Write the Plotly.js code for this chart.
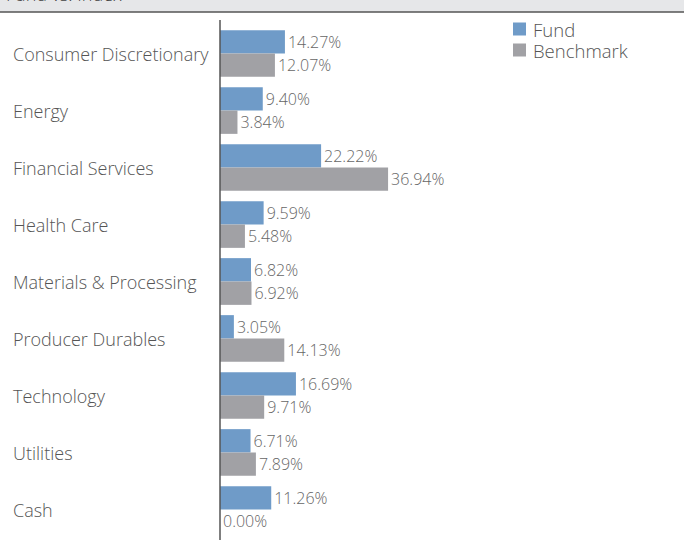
<!DOCTYPE html>
<html><head><meta charset="utf-8">
<script src="https://cdn.plot.ly/plotly-3.0.1.min.js"></script>
<style>html,body{margin:0;padding:0;background:#fff}#c{width:684px;height:540px}</style>
</head><body><div id="c"></div>
<script>
const categories = ["Consumer Discretionary","Energy","Financial Services","Health Care","Materials & Processing","Producer Durables","Technology","Utilities","Cash"];
const fundValues = [14.27, 9.40, 22.22, 9.59, 6.82, 3.05, 16.69, 6.71, 11.26];
const benchmarkValues = [12.07, 3.84, 36.94, 5.48, 6.92, 14.13, 9.71, 7.89, 0.00];
const seriesNames = ["Fund", "Benchmark"];
const seriesColors = ["#6f9bc8", "#a1a1a5"];
const chartTitle = "Fund vs. Index";

const W = 684, H = 540, L = 220, R = 9, T = 25, B = 2;
const pw = W - L - R, ph = H - T - B;
const px2x = p => (p - L) / pw;
const py2y = p => 1 - (p - T) / ph;

const font = "Open Sans, Liberation Sans, Arial, sans-serif";
const txt = v => v.toFixed(2) + "%";

const traces = [fundValues, benchmarkValues].map((vals, i) => ({
  type: "bar", orientation: "h", name: seriesNames[i], y: categories, x: vals,
  marker: {color: seriesColors[i]}, text: vals.map(txt), textposition: "outside",
  textfont: {family: font, size: 16, color: "#666", weight: 300}, cliponaxis: false, hoverinfo: "none"
}));

const annotations = categories.map(c => ({
  xref: "paper", yref: "y", x: px2x(11), y: c, text: c, showarrow: false,
  xanchor: "left", yanchor: "middle", font: {family: font, size: 18, color: "#555", weight: 300}
}));
annotations.push({xref: "paper", yref: "paper", x: px2x(4), y: py2y(8), text: chartTitle,
  showarrow: false, xanchor: "left", yanchor: "bottom", font: {family: font, size: 18, color: "#444", weight: 300}});

const shapes = [
  {type: "rect", xref: "paper", yref: "paper", x0: px2x(0), x1: px2x(W), y0: py2y(12), y1: py2y(-5),
   fillcolor: "#e6e7e9", line: {width: 0}, layer: "below"},
  {type: "line", xref: "paper", yref: "paper", x0: px2x(0), x1: px2x(W), y0: py2y(12), y1: py2y(12),
   line: {color: "#555", width: 1.5}},
  {type: "line", xref: "paper", yref: "paper", x0: 0, x1: 0, y0: py2y(20), y1: py2y(541),
   line: {color: "#555", width: 1.5}}
];

// manual legend
seriesNames.forEach((n, i) => {
  const cy = 29 + i * 21;
  shapes.push({type: "rect", xref: "paper", yref: "paper", x0: px2x(513), x1: px2x(526),
    y0: py2y(cy + 6.5), y1: py2y(cy - 6.5), fillcolor: seriesColors[i], line: {width: 0}});
  annotations.push({xref: "paper", yref: "paper", x: px2x(531), y: py2y(cy), text: n, showarrow: false,
    xanchor: "left", yanchor: "middle", font: {family: font, size: 18.5, color: "#555", weight: 300}});
});

const layout = {
  width: W, height: H, margin: {l: L, r: R, t: T, b: B},
  paper_bgcolor: "#fff", plot_bgcolor: "#fff",
  barmode: "group", bargap: 0.18, bargroupgap: 0,
  showlegend: false,
  xaxis: {range: [0, 100], showgrid: false, zeroline: false, showticklabels: false, showline: false, fixedrange: true},
  yaxis: {autorange: "reversed", showgrid: false, zeroline: false, showticklabels: false, showline: false, ticks: "", fixedrange: true},
  shapes: shapes,
  annotations: annotations
};
Plotly.newPlot("c", traces, layout, {displayModeBar: false, staticPlot: true});
</script></body></html>
